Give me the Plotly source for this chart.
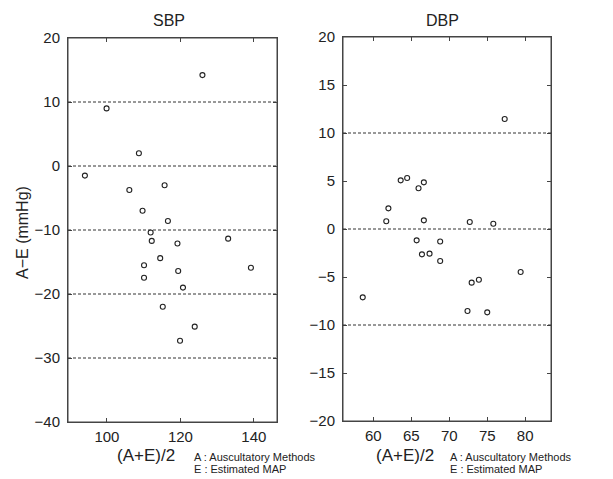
import plotly.graph_objects as go

# ---- data ----
sbp_mean = [126.0, 99.9, 108.7, 94.0, 106.1, 115.7, 109.7, 116.6, 111.9, 112.2, 119.2,
            133.0, 114.5, 110.1, 139.2, 119.4, 110.1, 120.7, 115.2, 123.9, 119.9]
sbp_diff = [14.2, 9.0, 2.0, -1.5, -3.75, -3.0, -7.0, -8.6, -10.4, -11.7, -12.1,
            -11.35, -14.4, -15.5, -15.9, -16.4, -17.45, -19.0, -22.0, -25.1, -27.3]
dbp_mean = [77.3, 63.6, 64.45, 66.65, 65.95, 61.98, 61.7, 66.65, 72.7, 75.8, 65.7,
            68.8, 66.4, 67.4, 68.8, 79.4, 73.9, 72.95, 58.6, 72.4, 75.0]
dbp_diff = [11.46, 5.07, 5.31, 4.86, 4.24, 2.15, 0.8, 0.9, 0.73, 0.55, -1.18,
            -1.3, -2.64, -2.57, -3.33, -4.48, -5.28, -5.59, -7.12, -8.54, -8.68]

sbp_xticks = [100, 120, 140]
sbp_yticks = [20, 10, 0, -10, -20, -30, -40]
sbp_grid = [10, 0, -10, -20, -30]
dbp_xticks = [60, 65, 70, 75, 80]
dbp_yticks = [20, 15, 10, 5, 0, -5, -10, -15, -20]
dbp_grid = [10, 0, -10]

W, H = 613, 479
FONT = "Liberation Sans"
INK = "#222222"

def px(x):
    return x / W

def py(y):
    return 1 - y / H

fig = go.Figure()
marker = dict(symbol="circle-open", size=5, color=INK, line=dict(width=1.1, color=INK))
fig.add_trace(go.Scatter(x=sbp_mean, y=sbp_diff, mode="markers", marker=marker,
                         xaxis="x", yaxis="y", showlegend=False, cliponaxis=False))
fig.add_trace(go.Scatter(x=dbp_mean, y=dbp_diff, mode="markers", marker=marker,
                         xaxis="x2", yaxis="y2", showlegend=False, cliponaxis=False))

axis_common = dict(showline=True, mirror="ticks", linecolor="#444444", linewidth=1,
                   ticks="inside", ticklen=4, tickcolor="#444444", showgrid=False,
                   zeroline=False, automargin=False,
                   tickfont=dict(family=FONT, size=15, color=INK))

fig.update_layout(
    width=W, height=H, margin=dict(l=0, r=0, t=0, b=0),
    paper_bgcolor="white", plot_bgcolor="white",
    xaxis=dict(domain=[px(68), px(277)], range=[89.4, 146.3], tickvals=sbp_xticks,
               anchor="y", ticklabelstandoff=1, **axis_common),
    yaxis=dict(domain=[py(422), py(38)], range=[-40, 20], tickvals=sbp_yticks,
               anchor="x", ticklabelstandoff=4, **axis_common),
    xaxis2=dict(domain=[px(343), px(551)], range=[56, 83.4], tickvals=dbp_xticks,
                anchor="y2", ticklabelstandoff=1, **axis_common),
    yaxis2=dict(domain=[py(421), py(37)], range=[-20, 20], tickvals=dbp_yticks,
                anchor="x2", ticklabelstandoff=4, **axis_common),
)

# frames
for ax in ("x", "x2"):
    yax = "y" if ax == "x" else "y2"
    fig.add_shape(type="rect", xref=f"{ax} domain", yref=f"{yax} domain",
                  x0=0, x1=1, y0=0, y1=1, line=dict(color="#444444", width=1))

for v in sbp_grid:
    fig.add_shape(type="line", xref="x domain", yref="y", x0=0, x1=1, y0=v, y1=v,
                  line=dict(color="#333333", width=1, dash="3px,2px"))
for v in dbp_grid:
    fig.add_shape(type="line", xref="x2 domain", yref="y2", x0=0, x1=1, y0=v, y1=v,
                  line=dict(color="#333333", width=1, dash="3px,2px"))

def note(text, x, y, size, xanchor="center", yanchor="middle", angle=0):
    fig.add_annotation(text=text, x=px(x), y=py(y), xref="paper", yref="paper",
                       showarrow=False, xanchor=xanchor, yanchor=yanchor, textangle=angle,
                       font=dict(family=FONT, size=size, color=INK))

note("SBP", 169, 20, 16)
note("DBP", 442, 20, 16)
note("A\u2212E (mmHg)", 22, 232, 16, angle=-90)

note("(A+E)/2", 146, 455, 17)
note("A : Auscultatory Methods", 192, 457, 11, xanchor="left")
note("E : Estimated MAP", 192, 469, 11, xanchor="left")

note("(A+E)/2", 405, 455, 17)
note("A : Auscultatory Methods", 448, 457, 11, xanchor="left")
note("E : Estimated MAP", 448, 469, 11, xanchor="left")

fig.write_html("out.html", config={"displayModeBar": False},
               post_script="document.body.style.margin='0';document.body.style.overflow='hidden';")
